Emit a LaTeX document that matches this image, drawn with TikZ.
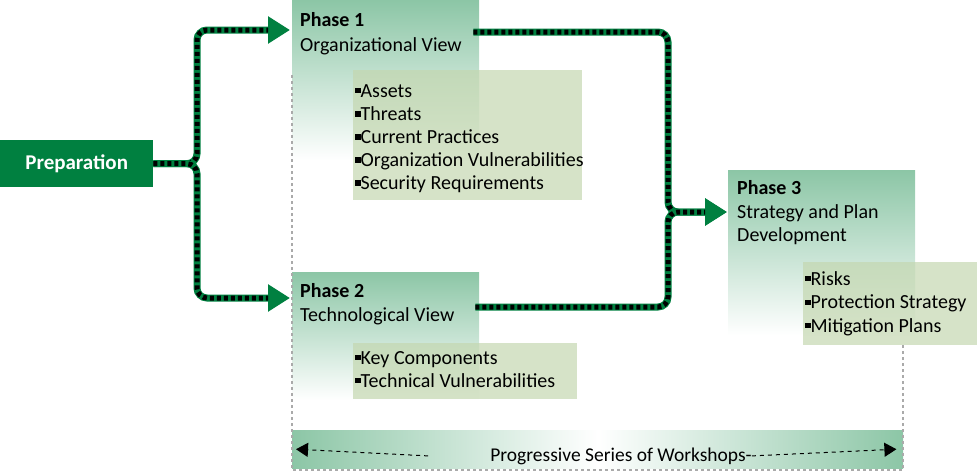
\documentclass[tikz,border=0pt]{standalone}
\usepackage{fontspec}
\setmainfont{Carlito}
\usetikzlibrary{arrows.meta,positioning,calc}
\definecolor{prepgreen}{RGB}{0,128,64}
\definecolor{phasegreen}{RGB}{140,198,166}
\definecolor{listolive}{RGB}{196,215,176}
\definecolor{guidegray}{RGB}{170,170,170}
\newcommand{\sqbullet}{\rule[0.18em]{0.27em}{0.27em}}
\tikzset{
  prep/.style={fill=prepgreen, text=white, font=\bfseries\fontsize{21}{24}\selectfont, minimum width=153pt, minimum height=47pt, inner sep=0pt, anchor=north west},
  phase box/.style={top color=phasegreen, bottom color=white, minimum width=187pt, inner sep=0pt, anchor=north west},
  phase title/.style={font=\bfseries\fontsize{20}{24}\selectfont, anchor=base west, inner sep=0pt},
  phase text/.style={font=\fontsize{20}{24}\selectfont, anchor=base west, inner sep=0pt},
  list box/.style={fill=listolive, fill opacity=0.7, inner sep=0pt, anchor=north west},
  list item/.style={font=\fontsize{20}{24}\selectfont, anchor=base west, inner sep=0pt},
  flow/.style={draw=prepgreen, line width=7pt, rounded corners=10pt,
    -{Triangle[length=22pt,width=26pt]},
    postaction={draw=black, line width=5pt, dash pattern=on 4pt off 3pt, -, shorten >=22pt}},
  guide/.style={draw=guidegray, dashed, line width=1.2pt},
  bar/.style={left color=phasegreen, right color=phasegreen, middle color=white, inner sep=0pt, anchor=north west},
  bar label/.style={font=\fontsize{19.5}{24}\selectfont, inner sep=0pt, anchor=base},
  bar arrow/.style={draw=black, line width=1pt, dash pattern=on 4pt off 4pt, -{Triangle[length=12pt,width=14pt]}}
}
\begin{document}
\begin{tikzpicture}[x=1pt, y=-1pt]
  \useasboundingbox (0,0) rectangle (979,471);

  % phase panels
  \node[phase box, minimum height=160pt] (ph1) at (292,0) {};
  \node[phase box, minimum height=128pt] (ph2) at (292,272) {};
  \node[phase box, minimum height=165pt] (ph3) at (728,170) {};

  % workshop bar
  \node[bar, minimum width=611pt, minimum height=38pt] (bar) at (292,430) {};

  % guides
  \draw[guide] (292,75) -- (292,470) -- (903,470) -- (903,345);

  % item panels
  \node[list box, minimum width=229pt, minimum height=130pt] (list1) at (353,70) {};
  \node[list box, minimum width=224pt, minimum height=56pt] (list2) at (353,343) {};
  \node[list box, minimum width=174pt, minimum height=83pt] (list3) at (803,262) {};

  \node[prep] (prep) at (0,140) {Preparation};

  \node[phase title] (ph1 title) at (300,27) {Phase 1};
  \node[phase text] (ph1 text) at (300,51) {Organizational View};
  \node[phase title] (ph2 title) at (300,297) {Phase 2};
  \node[phase text] (ph2 text) at (300,321) {Technological View};
  \node[phase title] (ph3 title) at (737,194) {Phase 3};
  \node[phase text] (ph3 text) at (737,218) {Strategy and Plan};
  \node[phase text] (ph3 text2) at (737,241) {Development};

  \foreach \item [count=\i] in {Assets, Threats, Current Practices, Organization Vulnerabilities, Security Requirements}
    \node[list item] (list1 item\i) at (355,{97+23.1*(\i-1)}) {\sqbullet\item};
  \foreach \item [count=\i] in {Key Components, Technical Vulnerabilities}
    \node[list item] (list2 item\i) at (355,{364+23*(\i-1)}) {\sqbullet\item};
  \foreach \item [count=\i] in {Risks, Protection Strategy, Mitigation Plans}
    \node[list item] (list3 item\i) at (805,{285+23.5*(\i-1)}) {\sqbullet\item};

  % connectors
  \coordinate (split) at (197,163);
  \coordinate (merge) at (668,212);
  \coordinate (ph1 in) at ([shift={(-2,30)}]ph1.north west);
  \coordinate (ph2 in) at ([shift={(-2,26)}]ph2.north west);
  \coordinate (ph3 in) at ([shift={(-1,42)}]ph3.north west);
  \coordinate (ph1 out) at ([shift={(-6,32)}]ph1.north east);
  \coordinate (ph2 out) at ([shift={(-4,35)}]ph2.north east);

  \draw[flow] (prep.east) -| (split |- ph1 in) -- (ph1 in);
  \draw[flow] (prep.east) -| (split |- ph2 in) -- (ph2 in);
  \draw[flow] (ph1 out) -| (merge) -- (ph3 in);
  \draw[flow] (ph2 out) -| (merge) -- (ph3 in);

  \node[bar label] (bar text) at (621,461) {Progressive Series of Workshops-};
  \draw[bar arrow] ([xshift=-62pt]bar text.west) -- ([xshift=4pt]bar.west);
  \draw[bar arrow] (bar text.east) -- ([xshift=-7pt]bar.east);
\end{tikzpicture}
\end{document}
